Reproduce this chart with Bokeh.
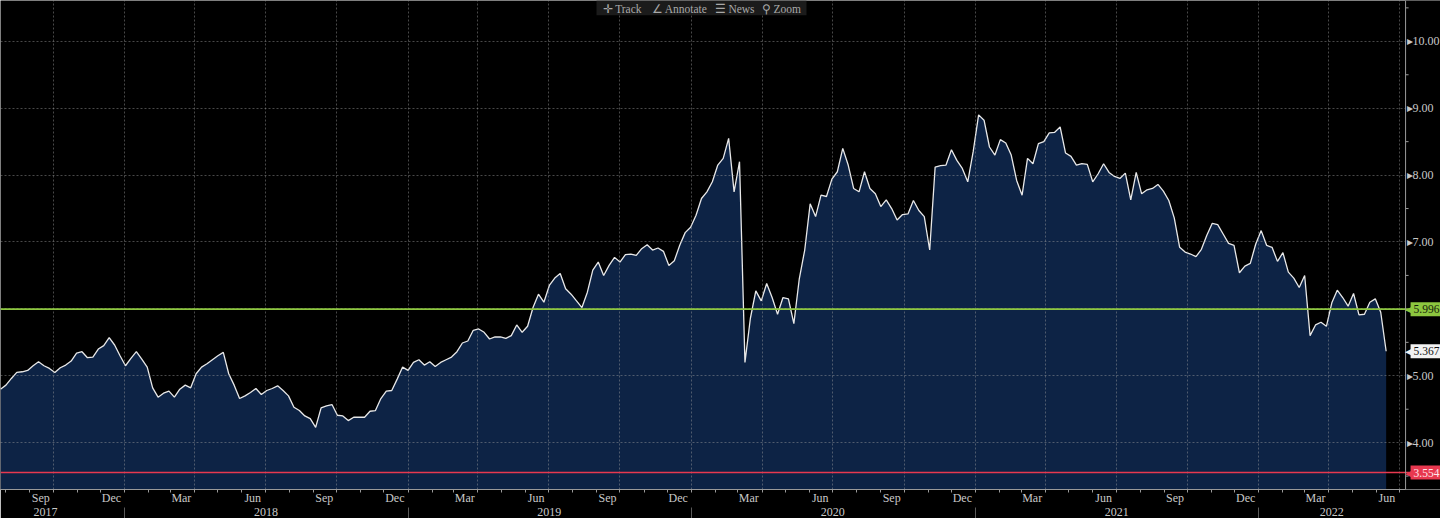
import pandas as pd
from bokeh.plotting import figure
from bokeh.models import Range1d, FixedTicker, DatetimeAxis, Span, Label, Grid, BoxAnnotation
from bokeh.core.properties import value
from bokeh.embed import file_html
from bokeh.resources import INLINE

# ---------------- data (weekly closes) ----------------
start_date = "2017-07-25"
values = [
    4.80, 4.86, 4.96, 5.05, 5.06, 5.08, 5.15, 5.21, 5.15, 5.11,
    5.05, 5.12, 5.16, 5.22, 5.34, 5.36, 5.27, 5.28, 5.40, 5.45,
    5.57, 5.46, 5.30, 5.15, 5.26, 5.36, 5.25, 5.13, 4.82, 4.68,
    4.74, 4.77, 4.68, 4.80, 4.86, 4.82, 5.03, 5.13, 5.18, 5.24,
    5.30, 5.35, 5.03, 4.86, 4.66, 4.70, 4.75, 4.81, 4.72, 4.78,
    4.81, 4.85, 4.78, 4.70, 4.53, 4.48, 4.40, 4.36, 4.23, 4.52,
    4.55, 4.57, 4.41, 4.40, 4.33, 4.38, 4.38, 4.38, 4.47, 4.48,
    4.66, 4.77, 4.78, 4.95, 5.13, 5.08, 5.20, 5.24, 5.16, 5.21,
    5.14, 5.20, 5.24, 5.28, 5.36, 5.49, 5.52, 5.68, 5.70, 5.65,
    5.55, 5.58, 5.58, 5.56, 5.60, 5.76, 5.65, 5.74, 6.02, 6.22,
    6.10, 6.35, 6.46, 6.53, 6.30, 6.22, 6.12, 6.02, 6.25, 6.58,
    6.70, 6.50, 6.65, 6.77, 6.70, 6.81, 6.82, 6.80, 6.90, 6.96,
    6.88, 6.91, 6.86, 6.65, 6.72, 6.95, 7.14, 7.22, 7.40, 7.65,
    7.75, 7.90, 8.15, 8.25, 8.55, 7.75, 8.20, 5.20, 5.86, 6.27,
    6.12, 6.38, 6.17, 5.92, 6.17, 6.15, 5.78, 6.45, 6.88, 7.57,
    7.38, 7.70, 7.68, 7.94, 8.05, 8.40, 8.15, 7.80, 7.75, 8.05,
    7.80, 7.72, 7.53, 7.63, 7.50, 7.33, 7.41, 7.42, 7.62, 7.47,
    7.38, 6.88, 8.12, 8.14, 8.15, 8.38, 8.22, 8.10, 7.90, 8.35,
    8.90, 8.82, 8.42, 8.30, 8.53, 8.48, 8.30, 7.92, 7.70, 8.25,
    8.17, 8.47, 8.50, 8.63, 8.64, 8.72, 8.33, 8.28, 8.15, 8.17,
    8.16, 7.90, 8.02, 8.17, 8.04, 7.98, 7.95, 8.03, 7.63, 8.04,
    7.72, 7.78, 7.80, 7.86, 7.76, 7.62, 7.36, 6.92, 6.85, 6.82,
    6.78, 6.89, 7.10, 7.28, 7.26, 7.12, 6.98, 6.95, 6.54, 6.64,
    6.68, 6.97, 7.17, 6.95, 6.92, 6.71, 6.84, 6.55, 6.46, 6.32,
    6.50, 5.60, 5.76, 5.80, 5.74, 6.09, 6.28, 6.17, 6.04, 6.23,
    5.91, 5.92, 6.10, 6.15, 5.95, 5.367,
]
dates = pd.date_range(start_date, periods=len(values), freq="7D")

upper_level = 5.996
lower_level = 3.554
last_value = values[-1]

x_start, axis_date, x_end = "2017-07-25", "2022-07-09", "2022-08-23"
y_start, y_end = 3.30, 10.61

y_ticks = [4, 5, 6, 7, 8, 9, 10]
y_tick_labels = ["4.00", "5.00", "", "7.00", "8.00", "9.00", "10.00"]
y_minor = [3.5, 4.5, 5.5, 6.5, 7.5, 8.5, 9.5, 10.5]

month_label_dates = [
    "2017-09-15", "2017-12-15", "2018-03-15", "2018-06-15", "2018-09-15",
    "2018-12-15", "2019-03-15", "2019-06-15", "2019-09-15", "2019-12-15",
    "2020-03-15", "2020-06-15", "2020-09-15", "2020-12-15", "2021-03-15",
    "2021-06-15", "2021-09-15", "2021-12-15", "2022-03-15", "2022-06-15",
]
month_labels = ["Sep", "Dec", "Mar", "Jun", "Sep", "Dec", "Mar", "Jun",
                "Sep", "Dec", "Mar", "Jun", "Sep", "Dec", "Mar", "Jun",
                "Sep", "Dec", "Mar", "Jun"]
year_label_dates = ["2017-09-21", "2018-07-02", "2019-07-02", "2020-07-01",
                    "2021-07-02", "2022-04-05"]
year_labels = ["2017", "2018", "2019", "2020", "2021", "2022"]
year_starts = ["2018-01-01", "2019-01-01", "2020-01-01", "2021-01-01", "2022-01-01"]

toolbar_items = ["\u271b Track", "\u2220 Annotate", "\u2630 News", "\u26b2 Zoom"]


def ms(d):
    return int(pd.Timestamp(d).value // 10**6)


month_starts = [ms(d) for d in pd.date_range("2017-08-01", "2022-07-01", freq="MS")]
quarter_starts = [ms(d) for d in pd.date_range("2017-10-01", "2022-07-01", freq="QS")]

FONT = "Liberation Sans Narrow"
TXT = "#c8c8c8"
GRID = dict(grid_line_color="#a0a0a0", grid_line_alpha=0.45, grid_line_dash="2 2",
            level="annotation")

p = figure(width=1440, height=518, x_axis_type="datetime", y_axis_location=None,
           output_backend="svg", toolbar_location=None,
           x_range=Range1d(pd.Timestamp(x_start), pd.Timestamp(x_end)),
           y_range=Range1d(y_start, y_end),
           min_border_left=0, min_border_top=0, min_border_right=0, min_border_bottom=27,
           background_fill_color="black", border_fill_color="black")
p.outline_line_color = None
for g in list(p.xgrid) + list(p.ygrid):
    g.visible = False

# area + line
p.varea(x=dates, y1=0, y2=values, fill_color="#0d2345")
p.line(x=dates, y=values, line_color="#e8e8e8", line_width=1.3)

# grids
p.add_layout(Grid(dimension=0, ticker=FixedTicker(ticks=quarter_starts), **GRID))
p.add_layout(Grid(dimension=1, ticker=FixedTicker(ticks=y_ticks), **GRID))

# blank strip right of the value axis
p.add_layout(BoxAnnotation(left=ms(axis_date), fill_color="black", fill_alpha=1.0,
                           line_color=None))

# reference lines
p.add_layout(Span(location=upper_level, dimension="width", line_color="#8cc63f", line_width=1.6))
p.add_layout(Span(location=lower_level, dimension="width", line_color="#e8384f", line_width=1.6))

# value axis on the right
p.add_layout(Span(location=ms(axis_date), dimension="height", line_color="#9a9a9a", line_width=1))
r = p.ray(x=[pd.Timestamp(axis_date)] * len(y_minor), y=y_minor, length=3,
          length_units="screen", angle=0, line_color="#9a9a9a", line_width=1)
r.level = "overlay"
r = p.text(x=[pd.Timestamp(axis_date)] * len(y_ticks), y=y_ticks,
           text=[("\u25b8" + t) if t else "" for t in y_tick_labels],
           x_offset=1, text_baseline="middle", text_align="left",
           text_font=value(FONT), text_font_size="12px", text_color=TXT)
r.level = "overlay"

# bottom axis: months
xa = p.xaxis[0]
xa.ticker = FixedTicker(ticks=[ms(d) for d in month_label_dates], minor_ticks=month_starts)
xa.major_label_overrides = {ms(d): lab for d, lab in zip(month_label_dates, month_labels)}
xa.axis_line_color = "#9a9a9a"
xa.major_tick_out = 0
xa.major_tick_in = 0
xa.minor_tick_out = 3
xa.minor_tick_in = 0
xa.minor_tick_line_color = "#9a9a9a"
xa.major_label_standoff = -2
xa.major_label_text_font = FONT
xa.major_label_text_font_size = "12px"
xa.major_label_text_color = TXT

# bottom axis: years
ya2 = DatetimeAxis(ticker=FixedTicker(ticks=[ms(d) for d in year_label_dates],
                                      minor_ticks=[ms(d) for d in year_starts]))
ya2.major_label_overrides = {ms(d): lab for d, lab in zip(year_label_dates, year_labels)}
ya2.axis_line_color = None
ya2.major_tick_out = 0
ya2.major_tick_in = 0
ya2.minor_tick_out = 14
ya2.minor_tick_in = 0
ya2.minor_tick_line_color = "#5a5a5a"
ya2.major_label_standoff = -14
ya2.major_label_text_font = FONT
ya2.major_label_text_font_size = "12px"
ya2.major_label_text_color = TXT
p.add_layout(ya2, "below")

# value tags on the right
def tag(level, text, bg, fg):
    p.add_layout(Label(x=ms(axis_date), y=level, x_offset=-1, text="\u25c0", text_color=bg,
                       text_font_size="11px", text_baseline="middle"))
    p.add_layout(Label(x=ms(axis_date), y=level, x_offset=5, text=text, text_color=fg,
                       text_font=FONT, text_font_size="11.5px", text_baseline="middle",
                       background_fill_color=bg, padding=3))

tag(upper_level, f"{upper_level:.3f}", "#8cc63f", "#14210a")
tag(last_value, f"{last_value:.3f}", "#f2f2f2", "#111111")
tag(lower_level, f"{lower_level:.3f}", "#e8384f", "#ffe6ea")

# toolbar strip at top
p.add_layout(BoxAnnotation(left=596, right=806, left_units="screen", right_units="screen",
                           bottom=y_end - 0.22, top=y_end, fill_color="#1b1b1b",
                           fill_alpha=1.0, line_color=None))
for xpos, item in zip([602, 651, 714, 761], toolbar_items):
    p.add_layout(Label(x=xpos, y=y_end, x_units="screen", y_offset=-2, text=item,
                       text_font=FONT, text_font_size="11.5px", text_color="#a8a8a8",
                       text_baseline="top"))

open("out.html", "w").write(file_html(p, INLINE))
